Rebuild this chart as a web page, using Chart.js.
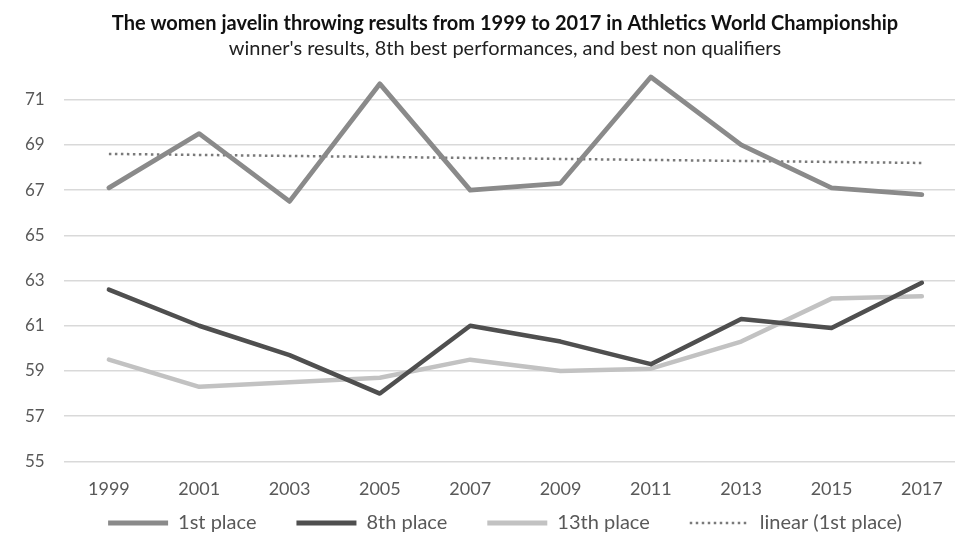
<!DOCTYPE html>
<html>
<head>
<meta charset="utf-8">
<script src="https://cdn.jsdelivr.net/npm/chart.js@4/dist/chart.umd.min.js"></script>
<style>
  html, body { margin: 0; padding: 0; background: #fff; overflow: hidden; }
  #wrap { width: 955px; height: 535px; overflow: hidden; position: relative; }
  canvas { display: block; }
</style>
</head>
<body>
<div id="wrap"><canvas id="c" width="1010" height="535"></canvas></div>
<script>
const years = ['1999','2001','2003','2005','2007','2009','2011','2013','2015','2017'];
const firstPlace = [67.1, 69.5, 66.5, 71.7, 67.0, 67.3, 72.0, 69.0, 67.1, 66.8];
const eighthPlace = [62.6, 61.0, 59.7, 58.0, 61.0, 60.3, 59.3, 61.3, 60.9, 62.9];
const thirteenthPlace = [59.5, 58.3, 58.5, 58.7, 59.5, 59.0, 59.1, 60.3, 62.2, 62.3];
// trend line endpoints (straight line 1999 -> 2017)
const linearFirst = [68.6, null, null, null, null, null, null, null, null, 68.2];
const yTicks = [55, 57, 59, 61, 63, 65, 67, 69, 71];

const FONT = 'Lato, "Open Sans", sans-serif';
const LEGEND_HEIGHT = 18;
const LEGEND_SHIFT = 44;

const legendSpacing = {
  id: 'legendSpacing',
  beforeLayout(chart) {
    const lg = chart.legend;
    if (lg && !lg._patched) {
      const fit = lg.fit;
      lg.fit = function () { fit.call(this); this.height = LEGEND_HEIGHT; };
      lg._patched = true;
    }
  },
  beforeDraw(chart) { if (chart.legend) { chart.legend.top -= LEGEND_SHIFT; } },
  afterDraw(chart) { if (chart.legend) { chart.legend.top += LEGEND_SHIFT; } }
};

new Chart(document.getElementById('c'), {
  type: 'line',
  data: {
    labels: years,
    datasets: [
      { label: '1st place', data: firstPlace, borderColor: '#8a8a8a', backgroundColor: '#8a8a8a', borderWidth: 4.8 },
      { label: '8th place', data: eighthPlace, borderColor: '#4f4f4f', backgroundColor: '#4f4f4f', borderWidth: 4.5 },
      { label: '13th place', data: thirteenthPlace, borderColor: '#c2c2c2', backgroundColor: '#c2c2c2', borderWidth: 4.5 },
      { label: 'linear (1st place)', data: linearFirst, borderColor: '#7a7a7a', backgroundColor: '#7a7a7a', borderWidth: 2.5, borderDash: [2.5, 3.5], borderCapStyle: 'butt', spanGaps: true }
    ]
  },
  options: {
    responsive: false,
    animation: false,
    devicePixelRatio: 1,
    layout: { padding: { left: 6, right: 6, top: 13, bottom: 0 } },
    elements: {
      point: { radius: 0, hoverRadius: 0 },
      line: { tension: 0, borderJoinStyle: 'round', borderCapStyle: 'round' }
    },
    scales: {
      x: {
        offset: true,
        grid: { display: false, drawTicks: false },
        border: { display: false },
        ticks: { color: '#595959', font: { family: FONT, size: 18 }, padding: 17, maxRotation: 0 }
      },
      y: {
        min: 55,
        max: 72.4,
        afterBuildTicks: (scale) => { scale.ticks = yTicks.map(v => ({ value: v })); },
        ticks: {
          color: '#595959',
          font: { family: FONT, size: 17 },
          padding: 19
        },
        grid: { color: '#d9d9d9', lineWidth: 1.5, drawTicks: false },
        border: { display: false }
      },
      yRight: {
        position: 'right',
        display: true,
        grid: { display: false, drawTicks: false },
        border: { display: false },
        ticks: { display: false },
        afterFit: (scale) => { scale.width = 37; }
      }
    },
    plugins: {
      title: {
        display: true,
        text: 'The women javelin throwing results from 1999 to 2017 in Athletics World Championship',
        color: '#111',
        font: { family: FONT, size: 20, weight: 'bold', lineHeight: 1.1 },
        padding: { top: 0, bottom: 1 }
      },
      subtitle: {
        display: true,
        text: "winner's results, 8th best performances, and best non qualifiers",
        color: '#222',
        font: { family: FONT, size: 20, weight: 'normal', lineHeight: 1.1 },
        padding: { top: 2, bottom: 8 }
      },
      legend: {
        position: 'bottom',
        labels: {
          color: '#595959',
          font: { family: FONT, size: 20 },
          usePointStyle: true,
          pointStyle: 'line',
          pointStyleWidth: 60,
          padding: 40,
          generateLabels: (chart) => {
            const items = Chart.defaults.plugins.legend.labels.generateLabels(chart);
            items.forEach(it => {
              const ds = chart.data.datasets[it.datasetIndex];
              it.lineDash = ds.borderDash || [];
              it.lineWidth = ds.borderDash ? 2.5 : 5;
              it.lineCap = 'butt';
              it.strokeStyle = ds.borderColor;
            });
            return items;
          }
        }
      },
      tooltip: { enabled: false }
    }
  },
  plugins: [legendSpacing]
});
</script>
</body>
</html>
